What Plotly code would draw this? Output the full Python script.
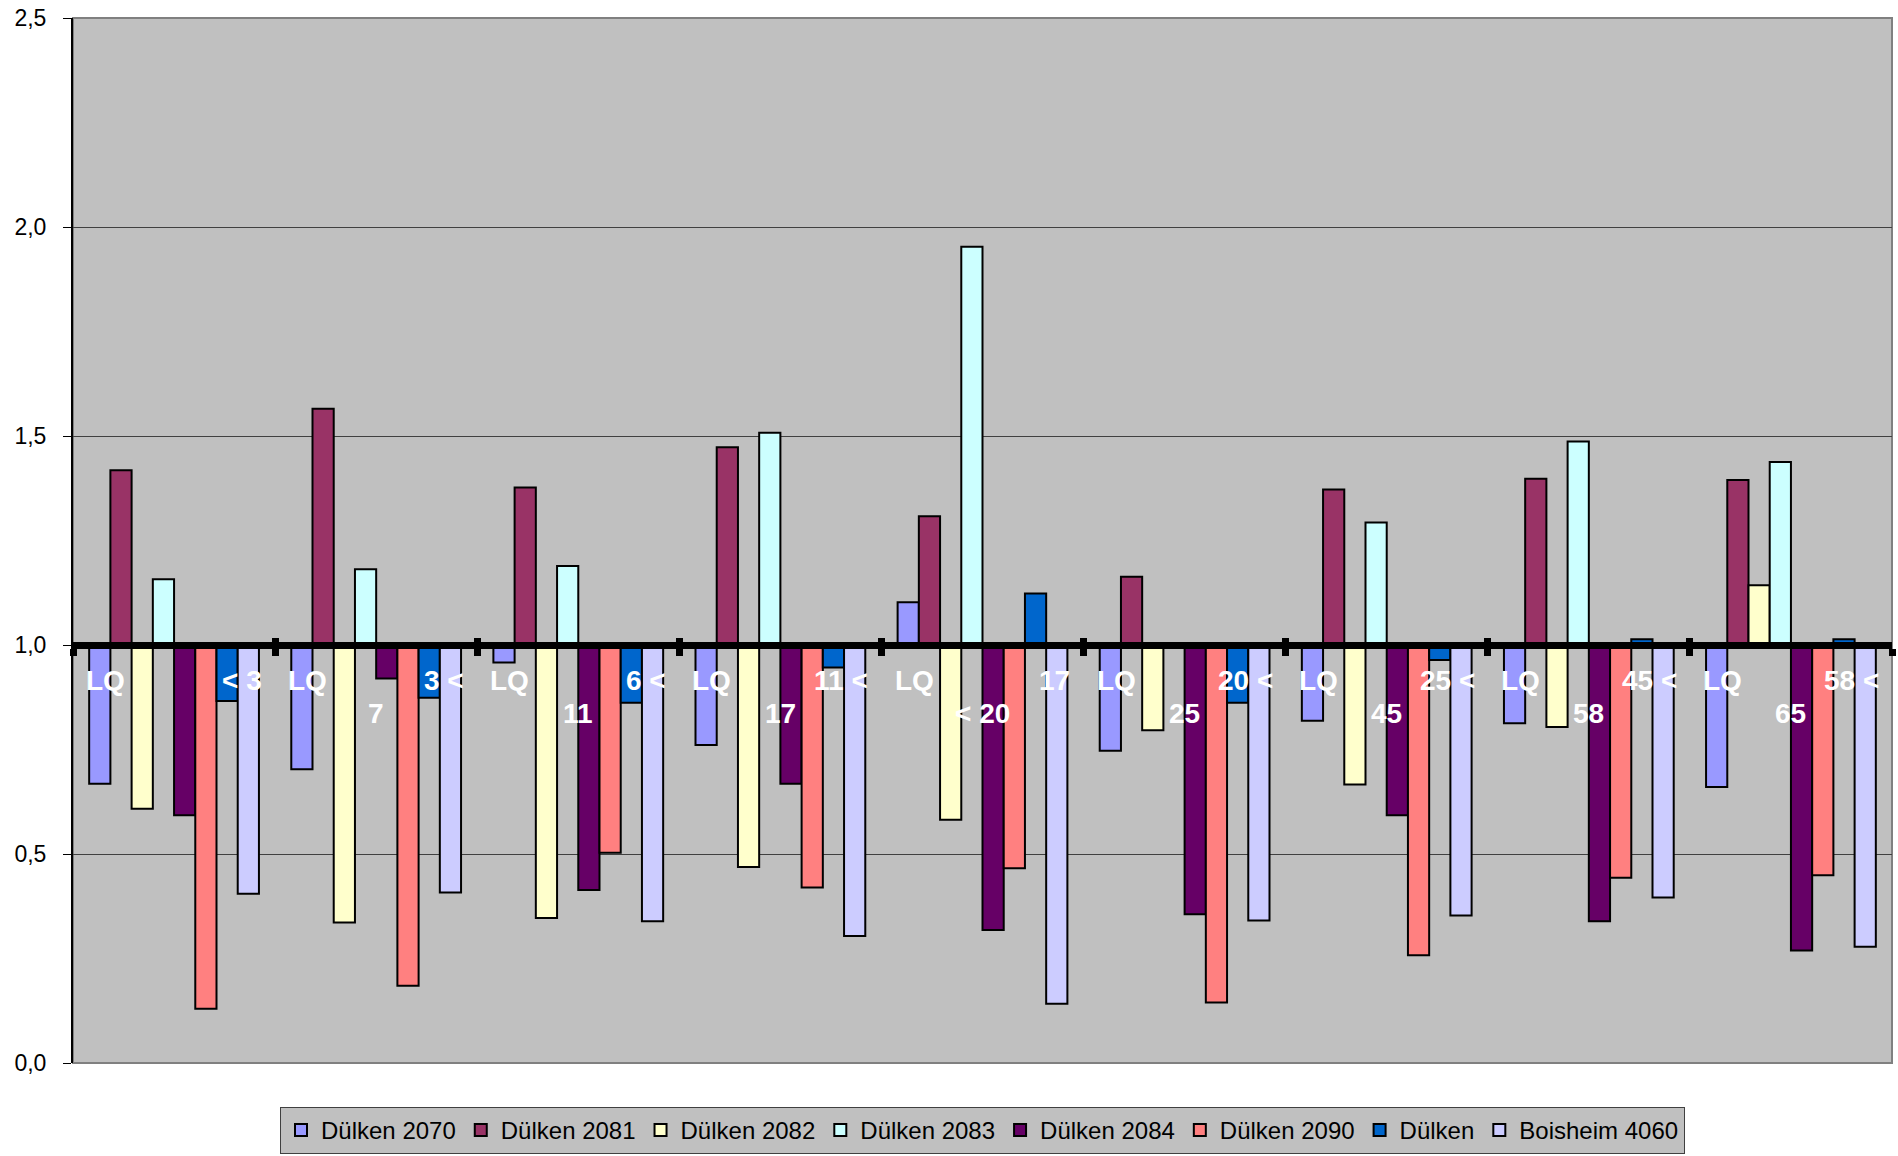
import plotly.graph_objects as go

categories = ["LQ < 3", "LQ 3 < 7", "LQ 6 < 11", "LQ 11 < 17", "LQ 17 < 20",
              "LQ 20 < 25", "LQ 25 < 45", "LQ 45 < 58", "LQ 58 < 65"]
label_left = ["LQ"] * 9
label_right = ["< 3", "3 <", "6 <", "11 <", "17", "20 <", "25 <", "45 <", "58 <"]
label_bottom = ["", "7", "11", "17", "< 20", "25", "45", "58", "65"]

series_names = ["Dülken 2070", "Dülken 2081", "Dülken 2082", "Dülken 2083",
                "Dülken 2084", "Dülken 2090", "Dülken", "Boisheim 4060"]

d2070 = [0.668, 0.703, 0.958, 0.761, 1.102, 0.747, 0.819, 0.813, 0.660]
d2081 = [1.418, 1.565, 1.377, 1.473, 1.308, 1.163, 1.372, 1.398, 1.395]
d2082 = [0.608, 0.336, 0.347, 0.469, 0.582, 0.796, 0.666, 0.804, 1.143]
d2083 = [1.157, 1.181, 1.189, 1.508, 1.953, None, 1.293, 1.487, 1.438]
d2084 = [0.593, 0.920, 0.414, 0.668, 0.318, 0.356, 0.593, 0.339, 0.269]
d2090 = [0.130, 0.185, 0.503, 0.420, 0.466, 0.145, 0.258, 0.443, 0.449]
dduelken = [0.866, 0.874, 0.862, 0.946, 1.123, 0.862, 0.964, 1.014, 1.014]
boisheim = [0.405, 0.408, 0.339, 0.304, 0.142, 0.341, 0.353, 0.396, 0.278]

series_values = [d2070, d2081, d2082, d2083, d2084, d2090, dduelken, boisheim]
colors = ["#9999FF", "#993366", "#FFFFCC", "#CCFFFF", "#660066", "#FF8080", "#0066CC", "#CCCCFF"]

BASE = 1.0
FONT = "Arial, Liberation Sans, sans-serif"

fig = go.Figure()
for name, vals, col in zip(series_names, series_values, colors):
    fig.add_trace(go.Bar(
        x=categories,
        y=[(v - BASE) if v is not None else None for v in vals],
        base=BASE,
        name=name,
        marker=dict(color=col, line=dict(color="black", width=2)),
    ))

# empty helper trace so the overlay tick axis is rendered
fig.add_trace(go.Scatter(x=[], y=[], xaxis="x2", showlegend=False, hoverinfo="skip"))

annotations = []
lab_font = dict(family=FONT, size=28, color="white", weight="bold")
for i in range(len(categories)):
    annotations.append(dict(x=i - 0.445, y=0.914, xref="x", yref="y", text=label_left[i],
                            showarrow=False, xanchor="left", yanchor="middle", font=lab_font))
    annotations.append(dict(x=i + 0.445, y=0.914, xref="x", yref="y", text=label_right[i],
                            showarrow=False, xanchor="right", yanchor="middle", font=lab_font))
    if label_bottom[i]:
        annotations.append(dict(x=i, y=0.835, xref="x", yref="y", text=label_bottom[i],
                                showarrow=False, xanchor="center", yanchor="middle", font=lab_font))

bounds = [i - 0.5 for i in range(len(categories) + 1)]

fig.update_layout(
    width=1898, height=1156,
    margin=dict(l=73, r=6, t=18, b=93),
    paper_bgcolor="white",
    plot_bgcolor="#C0C0C0",
    separators=",.",
    barmode="group",
    bargap=0.16,
    bargroupgap=0,
    font=dict(family=FONT, color="black"),
    showlegend=True,
    legend=dict(orientation="h", x=0.5, xanchor="center",
                yref="container", y=1 - 1107 / 1156, yanchor="top",
                bgcolor="#C0C0C0", bordercolor="#404040", borderwidth=1,
                font=dict(family=FONT, size=24, color="black"),
                itemwidth=30, traceorder="normal"),
    xaxis=dict(type="category", anchor="free", position=0.4,
               showline=True, linewidth=7, linecolor="black",
               ticks="outside", tickson="boundaries", ticklen=7, tickwidth=7, tickcolor="black",
               showticklabels=False, showgrid=False, zeroline=False,
               range=[-0.5, len(categories) - 0.5]),
    xaxis2=dict(overlaying="x", anchor="free", position=0.4,
                range=[-0.5, len(categories) - 0.5], tickmode="array", tickvals=bounds,
                ticks="inside", ticklen=7, tickwidth=7, tickcolor="black",
                showline=False, showticklabels=False, showgrid=False, zeroline=False),
    yaxis=dict(range=[0, 2.5], dtick=0.5, tick0=0, tickformat=".1f",
               showline=True, linewidth=2, linecolor="black",
               ticks="outside", ticklen=8, tickwidth=1, tickcolor="black",
               ticklabelstandoff=12,
               showgrid=True, gridcolor="#404040", gridwidth=1, zeroline=False,
               tickfont=dict(family=FONT, size=23, color="black")),
    shapes=[dict(type="rect", xref="paper", yref="paper", x0=0, x1=1, y0=0, y1=1,
                 line=dict(color="#808080", width=2), layer="below")],
    annotations=annotations,
)

fig.write_html("out.html", config={"displayModeBar": False},
               post_script="document.body.style.margin='0';")
